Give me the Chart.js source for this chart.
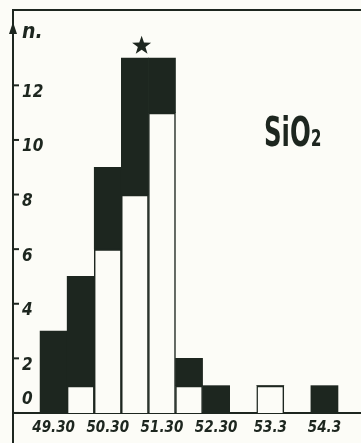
<!DOCTYPE html>
<html>
<head>
<meta charset="utf-8">
<script src="https://cdn.jsdelivr.net/npm/chart.js@4"></script>
<style>
    html, body { margin: 0; padding: 0; background: #fcfcf7; }
    canvas { display: block; }
</style>
</head>
<body>
<canvas id="sioChart" width="361" height="443"></canvas>
<script>
// Histogram data (one bin per 0.5 step, labels every second bin)
const binLabels = ["49.30", "", "50.30", "", "51.30", "", "52.30", "", "53.3", "", "54.3"];
const openCounts = [0, 1, 6, 8, 11, 1, 0, 0, 1, 0, 0];
const filledCounts = [3, 4, 3, 5, 2, 1, 1, 0, 0, 0, 1];
const yTicks = [0, 2, 4, 6, 8, 10, 12];

const ink = "#1d261f";
const paper = "#fcfcf7";
const handFont = "'DejaVu Sans Condensed', 'DejaVu Sans', sans-serif";

// keep chart area where the hand drawn frame is
function noScalePadding(scale) {
    scale.paddingLeft = 0;
    scale.paddingRight = 0;
    scale.paddingTop = 0;
    scale.paddingBottom = 0;
}

// frame, arrow, tick dashes and the annotations
const sketchDecor = {
    id: "sketchDecor",
    afterDraw(chart) {
        const { ctx, chartArea, scales } = chart;
        const left = chartArea.left;
        ctx.save();
        ctx.strokeStyle = ink;
        ctx.fillStyle = ink;
        ctx.lineWidth = 2;

        // top line + axis going down below the baseline
        ctx.beginPath();
        ctx.moveTo(left, chartArea.top);
        ctx.lineTo(chart.width, chartArea.top);
        ctx.moveTo(left, chartArea.bottom);
        ctx.lineTo(left, chart.height);
        ctx.stroke();

        // arrow head
        ctx.beginPath();
        ctx.moveTo(left, chartArea.top + 12);
        ctx.lineTo(left - 4, chartArea.top + 24);
        ctx.lineTo(left + 4, chartArea.top + 24);
        ctx.closePath();
        ctx.fill();

        // tick dashes
        scales.y.ticks.forEach(t => {
            const py = scales.y.getPixelForValue(t.value);
            ctx.beginPath();
            ctx.moveTo(left - 1, py);
            ctx.lineTo(left + 6, py);
            ctx.stroke();
        });

        ctx.textBaseline = "alphabetic";
        ctx.textAlign = "left";
        ctx.font = "italic bold 21px " + handFont;
        ctx.fillText("n.", left + 9, chartArea.top + 28);

        // star over the modal bins
        const sx = scales.x.getPixelForValue(3.25);
        const sy = scales.y.getPixelForValue(13.45);
        ctx.beginPath();
        for (let i = 0; i < 10; i++) {
            const r = i % 2 === 0 ? 10 : 4;
            const a = -Math.PI / 2 + i * Math.PI / 5;
            ctx.lineTo(sx + r * Math.cos(a), sy + r * Math.sin(a));
        }
        ctx.closePath();
        ctx.fill();

        // narrow hand lettering
        ctx.translate(264, 146);
        ctx.scale(0.68, 1);
        ctx.font = "bold 40px " + handFont;
        ctx.fillText("SiO₂", 0, 0);
        ctx.restore();
    }
};

new Chart(document.getElementById("sioChart"), {
    type: "bar",
    data: {
        datasets: [
            {
                data: openCounts.map((v, i) => ({ x: i, y: v })),
                backgroundColor: paper,
                borderColor: ink,
                borderWidth: { top: 2, left: 1.5, right: 1.5, bottom: 0 },
                borderSkipped: false,
                barPercentage: 1,
                categoryPercentage: 1
            },
            {
                data: filledCounts.map((v, i) => ({ x: i, y: v })),
                backgroundColor: ink,
                borderWidth: 0,
                barPercentage: 1,
                categoryPercentage: 1
            }
        ]
    },
    options: {
        responsive: false,
        animation: false,
        layout: {
            padding: { top: 10, left: 13, right: 0, bottom: 0 }
        },
        plugins: {
            legend: { display: false },
            tooltip: { enabled: false }
        },
        scales: {
            x: {
                type: "linear",
                min: -1.5,
                max: 11.35,
                offset: false,
                stacked: true,
                grid: { display: false, drawTicks: false, offset: false },
                border: { color: ink, width: 2 },
                afterBuildTicks: scale => {
                    scale.ticks = binLabels
                        .map((l, i) => ({ value: i }))
                        .filter(t => binLabels[t.value] !== "");
                },
                afterFit: noScalePadding,
                ticks: {
                    autoSkip: false,
                    maxRotation: 0,
                    padding: 7,
                    color: ink,
                    font: { family: handFont, size: 15, style: "italic", weight: "bold", lineHeight: 1.07 },
                    callback: value => binLabels[value]
                }
            },
            y: {
                min: 0,
                max: 14.76,
                stacked: true,
                grid: { display: false, drawTicks: false },
                border: { color: ink, width: 2 },
                afterBuildTicks: scale => {
                    scale.ticks = yTicks.map(v => ({ value: v }));
                },
                afterFit: scale => {
                    noScalePadding(scale);
                    scale.width = 0;
                },
                ticks: {
                    autoSkip: false,
                    mirror: true,
                    padding: 9,
                    labelOffset: 7,
                    color: ink,
                    font: { family: handFont, size: 17, style: "italic", weight: "bold" },
                    // the zero sits above the baseline in the drawing
                    callback: value => value === 0 ? ["0", "", ""] : String(value)
                }
            }
        }
    },
    plugins: [sketchDecor]
});
</script>
</body>
</html>
